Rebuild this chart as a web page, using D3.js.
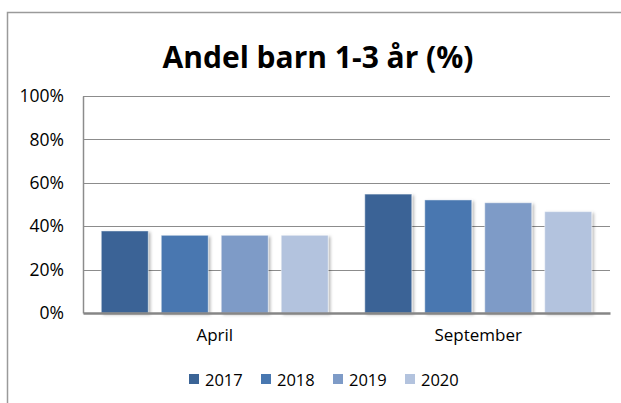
<!DOCTYPE html>
<html>
<head>
<meta charset="utf-8">
<script src="https://cdn.jsdelivr.net/npm/d3@7"></script>
<style>
  body { margin: 0; background: #fff; }
  svg { display: block; }
</style>
</head>
<body>
<div id="chart"></div>
<script>
var width = 621,
    height = 403;

// data
var months = ["April", "September"];
var years = ["2017", "2018", "2019", "2020"];
var april = [37.8, 35.8, 35.8, 35.8];
var september = [54.8, 52.1, 50.8, 46.7];
var yTicks = [0, 20, 40, 60, 80, 100];
var colors = ["#3b6496", "#4877b0", "#7e9bc7", "#b3c3de"];

var values = { "April": april, "September": september };

var svg = d3.select("#chart").append("svg")
    .attr("width", width)
    .attr("height", height)
    .style("font-family", "'Open Sans', sans-serif");

var defs = svg.append("defs");
var shadow = defs.append("filter")
    .attr("id", "shadow")
    .attr("x", "-20%").attr("y", "-20%")
    .attr("width", "150%").attr("height", "150%");
shadow.append("feDropShadow")
    .attr("dx", 2).attr("dy", 1.5)
    .attr("stdDeviation", 1.6)
    .attr("flood-color", "#000")
    .attr("flood-opacity", 0.28);

// outer frame (runs past the right and bottom of the picture)
svg.append("rect")
    .attr("x", 7.5)
    .attr("y", 12.5)
    .attr("width", 700)
    .attr("height", 500)
    .attr("fill", "#fff")
    .attr("stroke", "#9a9a9a")
    .attr("stroke-width", 1.5);

svg.append("text")
    .attr("x", 318)
    .attr("y", 68)
    .attr("text-anchor", "middle")
    .style("font-size", "30px")
    .attr("font-weight", "bold")
    .attr("fill", "#000")
    .text("Andel barn 1-3 år (%)");

var plotLeft = 83, plotRight = 610, plotTop = 96, plotBottom = 313;

var y = d3.scaleLinear().domain([0, 100]).range([plotBottom, plotTop]);
var x0 = d3.scaleBand().domain(months).range([plotLeft, plotRight]).padding(0);
var x1 = d3.scaleBand().domain(years).range([0, x0.bandwidth()])
    .paddingInner(0.217).paddingOuter(0.305);

// gridlines
svg.append("g")
    .selectAll("line")
    .data(yTicks.filter(function(d) { return d > 0; }))
    .enter().append("line")
    .attr("x1", plotLeft).attr("x2", plotRight)
    .attr("y1", function(d) { return Math.round(y(d)) + 0.5; })
    .attr("y2", function(d) { return Math.round(y(d)) + 0.5; })
    .attr("stroke", "#8c8c8c")
    .attr("stroke-width", 1);

// y axis
var yAxis = svg.append("g")
    .attr("transform", "translate(" + plotLeft + ",0)")
    .call(d3.axisLeft(y).tickValues(yTicks).tickSize(0).tickPadding(19)
        .tickFormat(function(d) { return d + "%"; }));
yAxis.select(".domain").attr("stroke", "#8c8c8c").attr("stroke-width", 1.5);
yAxis.selectAll("text").style("font-size", "17.5px").attr("fill", "#000")
    .style("font-family", "'Open Sans', sans-serif");

// bars
var groups = svg.append("g")
    .selectAll("g")
    .data(months)
    .enter().append("g")
    .attr("transform", function(d) { return "translate(" + x0(d) + ",0)"; });

groups.selectAll("rect")
    .data(function(m) {
        return years.map(function(yr, i) { return { year: yr, value: values[m][i], i: i }; });
    })
    .enter().append("rect")
    .attr("x", function(d) { return x1(d.year); })
    .attr("y", function(d) { return y(d.value); })
    .attr("width", x1.bandwidth())
    .attr("height", function(d) { return plotBottom - y(d.value); })
    .attr("fill", function(d) { return colors[d.i]; })
    .attr("stroke", "rgba(255,255,255,0.45)")
    .attr("stroke-width", 1)
    .attr("filter", "url(#shadow)");

// x axis
var xAxis = svg.append("g")
    .attr("transform", "translate(0," + plotBottom + ")")
    .call(d3.axisBottom(x0).tickSize(0).tickPadding(16));
xAxis.select(".domain").attr("stroke", "#868686").attr("stroke-width", 2.5);
xAxis.selectAll("text").style("font-size", "17px").attr("fill", "#000")
    .style("font-family", "'Open Sans', sans-serif");

// legend
var legend = svg.append("g")
    .selectAll("g")
    .data(years)
    .enter().append("g")
    .attr("transform", function(d, i) { return "translate(" + (189 + i * 72) + ",0)"; });
legend.append("rect")
    .attr("x", 0).attr("y", 374)
    .attr("width", 10).attr("height", 10)
    .attr("fill", function(d, i) { return colors[i]; });
legend.append("text")
    .attr("x", 16).attr("y", 385.5)
    .style("font-size", "16.5px")
    .attr("fill", "#000")
    .text(function(d) { return d; });
</script>
</body>
</html>
